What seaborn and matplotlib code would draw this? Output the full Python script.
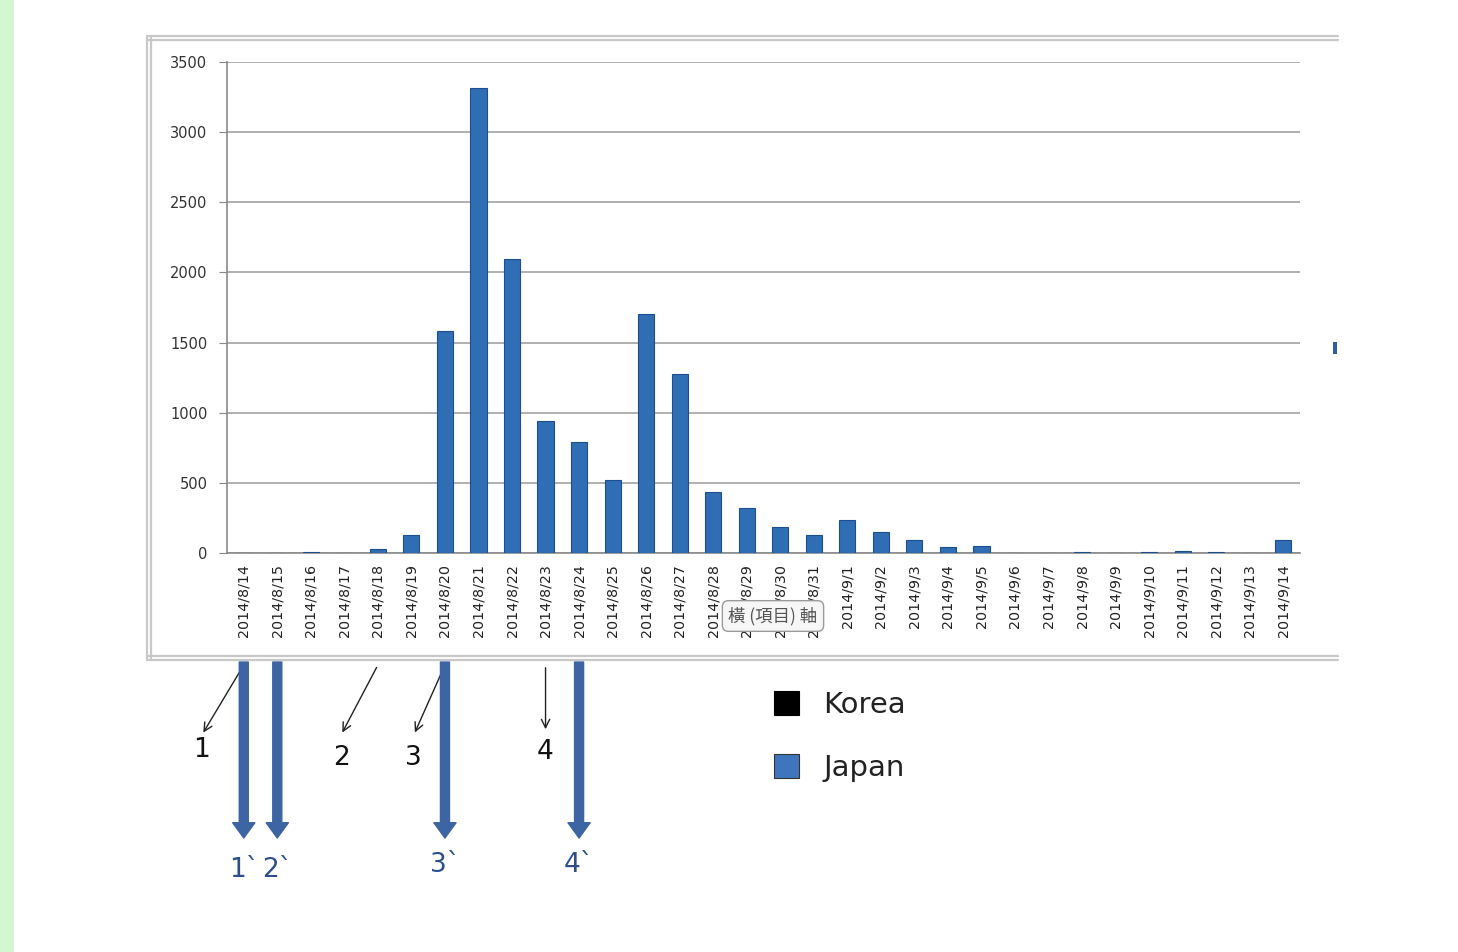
import numpy as np
import pandas as pd
import matplotlib
matplotlib.use("Agg")
import matplotlib.pyplot as plt
import seaborn as sns
from matplotlib.patches import Patch, Rectangle
from matplotlib.lines import Line2D

# data
dates = ["2014/8/14", "2014/8/15", "2014/8/16", "2014/8/17", "2014/8/18", "2014/8/19",
         "2014/8/20", "2014/8/21", "2014/8/22", "2014/8/23", "2014/8/24", "2014/8/25",
         "2014/8/26", "2014/8/27", "2014/8/28", "2014/8/29", "2014/8/30", "2014/8/31",
         "2014/9/1", "2014/9/2", "2014/9/3", "2014/9/4", "2014/9/5", "2014/9/6",
         "2014/9/7", "2014/9/8", "2014/9/9", "2014/9/10", "2014/9/11", "2014/9/12",
         "2014/9/13", "2014/9/14"]
japan = [0, 0, 5, 0, 30, 128,
         1582, 3312, 2097, 941, 791, 520,
         1703, 1276, 435, 320, 185, 128,
         235, 150, 93, 43, 50, 0,
         0, 5, 0, 5, 12, 8,
         0, 90]
yticks = [0, 500, 1000, 1500, 2000, 2500, 3000, 3500]
legend_names = ["Korea", "Japan"]
legend_colors = ["#000000", "#3f75bd"]

# annotation anchors: (label, category index, head shift in categories)
thin_marks = [("1", 0, -1.25), ("2", 4, -1.1), ("3", 6, -0.93), ("4", 9, 0.0)]
thick_marks = [("1`", 0), ("2`", 1), ("3`", 6), ("4`", 10)]

df = pd.DataFrame({"date": dates, "count": japan})

sns.set_style("white")
plt.rcParams['font.family'] = ['DejaVu Sans', 'Noto Sans CJK TC']

W, H = 1458, 952
fig = plt.figure(figsize=(14.58, 9.52), dpi=100)
fig.patch.set_facecolor("white")

def fx(px):
    return px / W

def fy(py):
    return 1 - py / H

# green strip on the left
fig.add_artist(Rectangle((0, 0), fx(14), 1, transform=fig.transFigure,
                         facecolor="#d3f8cf", edgecolor="none"))

# excel chart frame
frame_col = "#c8c8c8"
for y0 in (36, 40):
    fig.add_artist(Line2D([fx(147), fx(1338)], [fy(y0), fy(y0)], color=frame_col, lw=1.6))
for y0 in (656, 660):
    fig.add_artist(Line2D([fx(147), fx(1338)], [fy(y0), fy(y0)], color=frame_col, lw=1.6))
for x0 in (147, 151):
    fig.add_artist(Line2D([fx(x0), fx(x0)], [fy(36), fy(660)], color=frame_col, lw=1.6))

ax = fig.add_axes([fx(227), fy(553), fx(1300) - fx(227), fy(62) - fy(553)])
sns.barplot(data=df, x="date", y="count", color="#2f6db5", width=0.48,
            edgecolor="#1d4f8e", linewidth=0.8, saturation=1, ax=ax, zorder=3)

ax.set_ylim(0, 3500)
ax.set_xlim(-0.5, len(dates) - 0.5)
ax.set_yticks(yticks)
ax.set_yticklabels([str(v) for v in yticks], fontsize=10.5, color="#333333")
ax.set_xticks(range(len(dates)))
ax.set_xticklabels(dates, rotation=90, fontsize=10.3, color="#222222")
ax.set_xticks(np.arange(-0.5, len(dates), 1), minor=True)
ax.tick_params(axis="x", which="major", length=0, pad=8)
ax.tick_params(axis="x", which="minor", length=5, color="#888888", direction="out")
ax.tick_params(axis="y", length=6, color="#888888", direction="out", pad=8, left=True)
ax.set_xlabel("")
ax.set_ylabel("")
ax.yaxis.grid(True, color="#9a9a9a", lw=1.1, zorder=0)
ax.set_axisbelow(True)
for s in ("top", "right"):
    ax.spines[s].set_visible(False)
for s in ("left", "bottom"):
    ax.spines[s].set_color("#8a8a8a")
    ax.spines[s].set_linewidth(1.2)

# tooltip overlay (covers part of the tick labels, as in the screenshot)
fig.text(fx(773), fy(616), "橫 (項目) 軸", ha="center", va="center", fontsize=12.5,
         color="#555555", family=["Noto Sans CJK TC", "DejaVu Sans"], zorder=10,
         bbox=dict(boxstyle="round,pad=0.35", facecolor="#f6f6f6", edgecolor="#9a9a9a"))

# stray legend fragment at right
fig.add_artist(Rectangle((fx(1333), fy(354)), fx(4), fy(342) - fy(354),
                         transform=fig.transFigure, facecolor="#2f5f9e", edgecolor="none"))

# thin black arrows with numbers
for lab, idx, shift in thin_marks:
    head_y = 735 if shift != 0 else 732
    ax.annotate("", xy=(idx + shift, fy(head_y)), xytext=(idx, fy(665)),
                xycoords=("data", "figure fraction"), textcoords=("data", "figure fraction"),
                arrowprops=dict(arrowstyle="->,head_length=0.6,head_width=0.3", color="#222222", lw=1.0),
                annotation_clip=False)
    ty = 750 if lab == "1" else (752 if lab == "4" else 758)
    ax.annotate(lab, xy=(idx + shift, fy(ty)), xycoords=("data", "figure fraction"),
                ha="center", va="center", fontsize=19, color="#111111", annotation_clip=False)

# thick blue arrows with primed numbers
for lab, idx in thick_marks:
    ax.annotate("", xy=(idx, fy(838)), xytext=(idx, fy(662)),
                xycoords=("data", "figure fraction"), textcoords=("data", "figure fraction"),
                arrowprops=dict(width=6.5, headwidth=16, headlength=11, color="#3d64a3", shrink=0),
                annotation_clip=False)
    ty = 870 if lab in ("1`", "2`") else 865
    ax.annotate(lab, xy=(idx, fy(ty)), xycoords=("data", "figure fraction"),
                ha="center", va="center", fontsize=19, color="#2c4f8c", annotation_clip=False)

# legend
handles = [Patch(facecolor=c, edgecolor="#333333" if c != "#000000" else "#000000", lw=0.8)
           for c in legend_colors]
fig.legend(handles, legend_names, loc="upper left", bbox_to_anchor=(fx(774), fy(691)),
           frameon=False, fontsize=21, handlelength=0.85, handleheight=0.85,
           handletextpad=0.85, labelspacing=1.2, borderpad=0, borderaxespad=0,
           labelcolor="#222222")

fig.savefig("out.png", dpi=100, facecolor="white")
